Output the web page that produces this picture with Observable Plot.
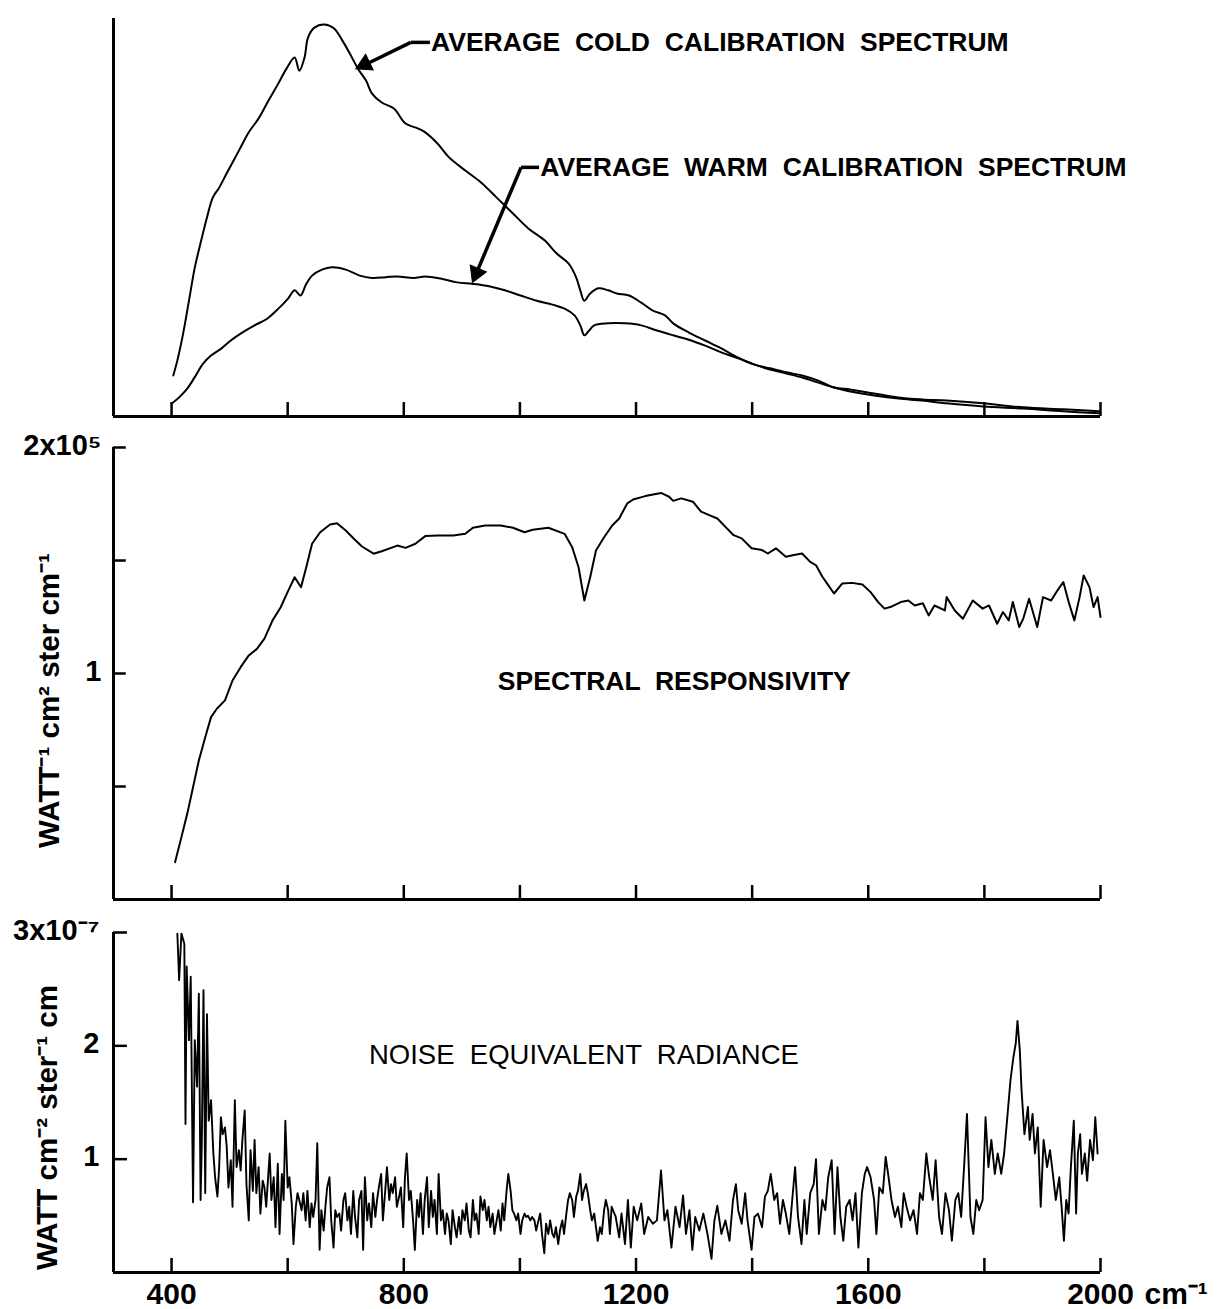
<!DOCTYPE html>
<html><head><meta charset="utf-8">
<script src="https://cdn.jsdelivr.net/npm/d3@7"></script>
<script src="https://cdn.jsdelivr.net/npm/@observablehq/plot@0.6"></script>
<style>
body{margin:0;background:#fff;}
#chart{width:1229px;height:1309px;position:relative;background:#fff;}
#chart svg{display:block;position:absolute;left:0;}
svg text{white-space:pre;}
</style></head><body><div id="chart"></div>
<script>
// ---- DATA (wavenumber cm^-1, value) ----
const coldCal = [[403,10.3],[410,14.1],[420,20.9],[430,29.1],[440,37.4],[451,44.2],[461,50],[471,55],[482,57.5],[495,61.1],[516,66.8],[533,71.4],[550,74.9],[567,79.4],[584,83.7],[598,87.4],[612,90.2],[620,86.9],[629,90.2],[635,95.2],[646,97.7],[663,98.5],[680,97.5],[694,94.5],[707,91.2],[721,87.4],[735,84.4],[745,81.2],[762,78.9],[783,77.4],[803,73.6],[824,72.4],[837,71.4],[858,68.6],[878,65.1],[906,61.8],[933,58.8],[960,55],[988,51],[1015,47.2],[1043,44.2],[1063,41],[1084,38.4],[1097,34.9],[1104,31.7],[1111,29.1],[1121,30.9],[1135,32.2],[1152,31.7],[1167,30.9],[1188,30.4],[1209,28.6],[1229,26.6],[1250,25.4],[1264,23.4],[1291,21.1],[1319,19.1],[1347,17.1],[1376,14.8],[1403,13.1],[1431,12.1],[1459,11.1],[1486,10.3],[1514,9.0],[1541,7.3],[1569,6.8],[1610,5.8],[1652,4.8],[1693,4.3],[1735,4.0],[1798,3.3],[1867,2.3],[1936,1.8],[1998,1.3]];

const warmCal = [[400,3.2],[413,4.8],[427,7],[440,9.9],[454,13.2],[468,15.3],[485,17],[502,19.1],[523,21.2],[543,22.9],[564,24.5],[584,27.1],[601,29.7],[612,31.7],[622,30.4],[632,33.3],[642,35.4],[659,36.9],[676,37.5],[700,36.9],[724,35.4],[745,34.8],[769,35],[789,35.2],[817,34.8],[837,35.2],[865,34.6],[892,33.7],[919,33.3],[947,32.7],[974,31.7],[1001,30.4],[1029,29.1],[1056,28.1],[1077,27.1],[1094,25.4],[1104,22.9],[1111,20.4],[1118,21.4],[1128,22.9],[1152,23.4],[1181,23.4],[1209,22.9],[1236,21.6],[1264,20.4],[1291,19.3],[1319,17.8],[1347,16.1],[1376,14.6],[1403,13.1],[1431,11.8],[1459,10.8],[1486,9.8],[1514,8.5],[1541,7.3],[1569,6.3],[1610,5.3],[1652,4.5],[1693,4.0],[1735,3.3],[1798,2.5],[1867,2.0],[1936,1.3],[1998,0.8]];

// spectral responsivity, units of 10^5 W^-1 cm2 ster cm^-1
const responsivity = [[406,0.165],[417,0.276],[427,0.379],[437,0.497],[447,0.615],[458,0.718],[468,0.807],[478,0.844],[492,0.881],[505,0.969],[519,1.028],[533,1.080],[547,1.109],[560,1.154],[574,1.235],[588,1.293],[601,1.367],[612,1.426],[623,1.382],[632,1.470],[642,1.574],[656,1.625],[673,1.659],[685,1.665],[700,1.633],[714,1.596],[728,1.562],[748,1.530],[762,1.541],[789,1.566],[803,1.556],[820,1.574],[837,1.608],[858,1.611],[885,1.611],[906,1.618],[919,1.645],[940,1.655],[967,1.655],[988,1.645],[1008,1.625],[1022,1.636],[1049,1.645],[1077,1.618],[1090,1.559],[1101,1.470],[1111,1.323],[1121,1.426],[1131,1.544],[1145,1.603],[1159,1.655],[1171,1.686],[1185,1.753],[1195,1.770],[1216,1.785],[1243,1.799],[1257,1.782],[1264,1.764],[1278,1.775],[1298,1.760],[1312,1.716],[1326,1.701],[1340,1.686],[1354,1.649],[1368,1.612],[1382,1.598],[1399,1.554],[1417,1.546],[1427,1.531],[1441,1.554],[1458,1.517],[1472,1.524],[1486,1.531],[1500,1.494],[1510,1.479],[1521,1.428],[1531,1.391],[1541,1.354],[1555,1.398],[1572,1.401],[1590,1.394],[1604,1.360],[1617,1.316],[1628,1.287],[1638,1.294],[1656,1.316],[1669,1.323],[1680,1.301],[1694,1.311],[1704,1.257],[1714,1.301],[1732,1.279],[1735,1.338],[1749,1.279],[1763,1.242],[1780,1.323],[1797,1.287],[1808,1.301],[1822,1.220],[1832,1.272],[1842,1.235],[1849,1.316],[1860,1.206],[1867,1.243],[1877,1.331],[1891,1.206],[1901,1.338],[1915,1.323],[1926,1.368],[1936,1.405],[1946,1.309],[1955,1.235],[1964,1.338],[1971,1.434],[1981,1.382],[1988,1.294],[1995,1.338],[2000,1.250]];

// noise equivalent radiance, units of 10^-7 W cm^-2 ster^-1 cm
const noiseRadiance = [[410,2.99],[413,2.58],[417,2.99],[422,2.90],[424,1.31],[426,2.70],[430,2.05],[433,2.61],[437,0.62],[440,2.05],[444,1.64],[447,2.46],[450,0.64],[452,1.11],[455,2.49],[458,0.70],[461,2.28],[464,1.34],[468,1.52],[472,1.05],[475,0.84],[479,0.67],[482,0.93],[485,1.37],[488,1.22],[492,1.28],[495,1.11],[498,0.75],[502,0.99],[505,0.58],[509,1.52],[512,0.93],[516,1.08],[519,0.90],[522,1.17],[526,1.43],[529,0.78],[533,0.46],[536,1.08],[540,0.72],[543,1.17],[546,0.70],[550,0.93],[553,0.52],[557,0.81],[560,0.75],[563,0.58],[569,1.05],[572,0.64],[576,0.84],[579,0.40],[583,0.96],[586,0.34],[590,0.87],[593,0.64],[596,1.34],[600,0.75],[603,0.84],[607,0.61],[610,0.25],[614,0.58],[617,0.70],[620,0.64],[624,0.55],[627,0.70],[631,0.46],[634,0.72],[638,0.40],[641,0.61],[644,0.49],[648,0.64],[651,1.14],[655,0.20],[658,0.55],[662,0.37],[665,0.58],[668,0.75],[672,0.84],[675,0.46],[679,0.22],[682,0.55],[685,0.49],[689,0.52],[692,0.37],[696,0.64],[699,0.70],[703,0.46],[706,0.58],[709,0.34],[713,0.72],[716,0.49],[720,0.31],[723,0.64],[727,0.72],[730,0.20],[733,0.84],[737,0.46],[740,0.61],[744,0.40],[747,0.70],[751,0.49],[754,0.64],[757,0.75],[761,0.87],[764,0.46],[768,0.72],[771,0.93],[775,0.64],[778,0.78],[781,0.70],[785,0.84],[788,0.58],[792,0.67],[795,0.75],[799,0.40],[802,0.84],[805,1.05],[809,0.64],[812,0.72],[816,0.46],[819,0.20],[823,0.64],[826,0.49],[829,0.70],[833,0.34],[836,0.64],[840,0.84],[843,0.40],[847,0.72],[850,0.49],[853,0.64],[857,0.34],[860,0.87],[864,0.46],[867,0.55],[871,0.34],[874,0.52],[877,0.46],[881,0.25],[884,0.55],[888,0.40],[891,0.31],[895,0.49],[898,0.34],[901,0.55],[905,0.46],[908,0.61],[912,0.37],[915,0.31],[919,0.64],[922,0.46],[925,0.52],[929,0.34],[932,0.67],[936,0.55],[939,0.64],[943,0.46],[946,0.58],[949,0.40],[953,0.52],[956,0.34],[960,0.46],[963,0.55],[967,0.37],[970,0.61],[973,0.46],[977,0.72],[980,0.87],[984,0.72],[987,0.55],[990,0.52],[994,0.46],[997,0.52],[1001,0.34],[1004,0.46],[1008,0.52],[1011,0.49],[1014,0.50],[1018,0.46],[1021,0.49],[1025,0.46],[1028,0.37],[1032,0.46],[1035,0.52],[1038,0.34],[1042,0.17],[1045,0.43],[1049,0.34],[1052,0.46],[1056,0.34],[1059,0.31],[1062,0.40],[1066,0.25],[1069,0.37],[1073,0.46],[1076,0.34],[1080,0.52],[1083,0.64],[1086,0.70],[1090,0.64],[1093,0.49],[1097,0.67],[1100,0.72],[1104,0.87],[1107,0.64],[1110,0.72],[1114,0.78],[1117,0.70],[1121,0.55],[1124,0.46],[1128,0.52],[1131,0.40],[1134,0.28],[1138,0.40],[1141,0.34],[1145,0.55],[1148,0.64],[1152,0.55],[1155,0.34],[1158,0.58],[1165,0.49],[1171,0.31],[1175,0.52],[1181,0.25],[1186,0.64],[1191,0.22],[1196,0.58],[1202,0.46],[1209,0.61],[1214,0.34],[1221,0.49],[1229,0.43],[1236,0.46],[1243,0.90],[1249,0.46],[1254,0.55],[1261,0.22],[1268,0.58],[1275,0.40],[1281,0.68],[1286,0.34],[1292,0.55],[1297,0.20],[1302,0.49],[1309,0.37],[1316,0.52],[1323,0.34],[1330,0.12],[1335,0.46],[1340,0.59],[1347,0.34],[1354,0.46],[1361,0.28],[1367,0.64],[1372,0.78],[1376,0.55],[1382,0.43],[1388,0.70],[1392,0.46],[1399,0.20],[1404,0.49],[1410,0.52],[1417,0.40],[1422,0.67],[1427,0.72],[1432,0.87],[1438,0.64],[1443,0.70],[1448,0.43],[1453,0.64],[1458,0.52],[1464,0.34],[1469,0.64],[1474,0.93],[1479,0.49],[1485,0.25],[1490,0.64],[1494,0.34],[1500,0.70],[1506,0.78],[1510,1.00],[1515,0.34],[1521,0.64],[1526,0.55],[1531,0.84],[1537,0.99],[1542,0.34],[1547,0.93],[1552,0.49],[1557,0.28],[1562,0.58],[1568,0.64],[1573,0.46],[1578,0.70],[1583,0.22],[1589,0.70],[1594,0.87],[1598,0.93],[1604,0.84],[1610,0.64],[1614,0.34],[1619,0.75],[1625,0.70],[1630,1.02],[1635,0.84],[1640,0.64],[1646,0.49],[1651,0.58],[1657,0.40],[1661,0.70],[1666,0.58],[1672,0.46],[1678,0.55],[1684,0.34],[1689,0.70],[1694,0.64],[1700,1.05],[1705,0.84],[1711,0.64],[1716,0.99],[1722,0.49],[1727,0.34],[1733,0.70],[1739,0.55],[1744,0.28],[1750,0.64],[1755,0.70],[1760,0.49],[1765,0.93],[1770,1.40],[1776,0.49],[1781,0.34],[1786,0.64],[1791,0.55],[1797,0.64],[1802,1.37],[1807,0.93],[1812,1.17],[1818,0.87],[1823,1.05],[1829,0.87],[1834,1.05],[1840,1.40],[1845,1.70],[1850,1.90],[1854,2.02],[1857,2.22],[1861,1.96],[1864,1.61],[1869,1.22],[1875,1.46],[1878,1.17],[1883,1.40],[1887,1.05],[1892,1.28],[1897,0.58],[1902,1.17],[1908,0.93],[1913,1.08],[1918,0.87],[1923,0.64],[1929,0.84],[1933,0.58],[1937,0.28],[1941,0.64],[1945,0.52],[1949,0.93],[1954,1.34],[1958,0.52],[1961,1.05],[1965,1.22],[1968,0.87],[1973,1.05],[1977,0.81],[1982,1.17],[1987,0.99],[1991,1.37],[1995,1.05]];

const xTicks = [400, 600, 800, 1000, 1200, 1400, 1600, 1800, 2000];
const xTickLabels = [400, 800, 1200, 1600, 2000];
const xUnit = "cm⁻¹";
const respTicks = [0.5, 1, 1.5, 2];
const respTickValues = [2, 1];
const respTickText = ["2x10⁵", "1"];
const noiseTicks = [1, 2, 3];
const noiseTickValues = [3, 2, 1];
const noiseTickText = ["3x10⁻⁷", "2", "1"];
const coldLabel = "AVERAGE  COLD  CALIBRATION  SPECTRUM";
const warmLabel = "AVERAGE  WARM  CALIBRATION  SPECTRUM";
const respLabel = "SPECTRAL  RESPONSIVITY";
const noiseLabel = "NOISE  EQUIVALENT  RADIANCE";
const respUnits = "WATT⁻¹ cm² ster cm⁻¹";
const noiseUnits = "WATT cm⁻² ster⁻¹ cm";

// ---- CHART ----
const W = 1229, XMIN = 300, XMAX = 2000;
const FONT = "'Liberation Sans', Arial, sans-serif";
const common = {width: W, marginLeft: 113, marginRight: 129,
  x: {domain: [XMIN, XMAX], axis: null},
  style: {fontFamily: FONT, background: "transparent", color: "#000", overflow: "visible"}};
const X = d => d[0], Y = d => d[1];
const seg = {x1: "x1", y1: "y1", x2: "x2", y2: "y2"};

const p1 = Plot.plot({...common, height: 424, marginTop: 18, marginBottom: 8,
  y: {domain: [0, 100], axis: null},
  marks: [
    Plot.ruleX([XMIN], {y1: 0, y2: 100, strokeWidth: 3}),
    Plot.ruleY([0], {x1: XMIN, x2: XMAX, strokeWidth: 3}),
    Plot.ruleX(xTicks, {y1: 0, y2: 3.5, strokeWidth: 2.5}),
    Plot.line(coldCal, {x: X, y: Y, strokeWidth: 2, curve: "catmull-rom"}),
    Plot.line(warmCal, {x: X, y: Y, strokeWidth: 2, curve: "catmull-rom"}),
    // leader lines and filled arrow heads
    Plot.link([{x1: 845, y1: 94, x2: 812, y2: 94}, {x1: 812, y1: 94, x2: 735, y2: 88.5}], {...seg, strokeWidth: 3.5}),
    Plot.dot([{x: 733, y: 88.5}], {x: "x", y: "y", symbol: "triangle", r: 6.5, fill: "black", stroke: "black", strokeWidth: 1, rotate: -116}),
    Plot.link([{x1: 1033, y1: 62.6, x2: 1002, y2: 62.6}, {x1: 1002, y1: 62.6, x2: 925, y2: 36}], {...seg, strokeWidth: 3.5}),
    Plot.dot([{x: 925, y: 36}], {x: "x", y: "y", symbol: "triangle", r: 6.5, fill: "black", stroke: "black", strokeWidth: 1, rotate: -157}),
    Plot.text([coldLabel], {x: () => 847, y: () => 94, textAnchor: "start", fontSize: 26.5, fontWeight: "bold"}),
    Plot.text([warmLabel], {x: () => 1035, y: () => 62.6, textAnchor: "start", fontSize: 26.5, fontWeight: "bold"})
  ]
});

const p2 = Plot.plot({...common, height: 480, marginTop: 23, marginBottom: 5,
  y: {domain: [0, 2], axis: null},
  marks: [
    Plot.ruleX([XMIN], {y1: 0, y2: 2, strokeWidth: 3}),
    Plot.ruleY([0], {x1: XMIN, x2: XMAX, strokeWidth: 3}),
    Plot.ruleX(xTicks, {y1: 0, y2: 0.062, strokeWidth: 2.5}),
    Plot.ruleY(respTicks, {x1: XMIN, x2: XMIN + 22, strokeWidth: 2.5}),
    Plot.line(responsivity, {x: X, y: Y, strokeWidth: 2}),
    Plot.text(respTickValues, {x: () => XMIN, y: d => d, text: (d, i) => respTickText[i], textAnchor: "end", dx: -12, dy: -2, fontSize: 29, fontWeight: "bold"}),
    Plot.text([respLabel], {x: () => 962, y: () => 0.965, textAnchor: "start", fontSize: 26.5, fontWeight: "bold"}),
    Plot.text([respUnits], {frameAnchor: "left", textAnchor: "middle", lineAnchor: "middle", rotate: -90, dx: -64, dy: 27, fontSize: 29.5, fontWeight: "bold"})
  ]
});

const p3 = Plot.plot({...common, height: 405, marginTop: 28, marginBottom: 37,
  y: {domain: [0, 3], axis: null},
  marks: [
    Plot.ruleX([XMIN], {y1: 0, y2: 3, strokeWidth: 3}),
    Plot.ruleY([0], {x1: XMIN, x2: XMAX, strokeWidth: 3}),
    Plot.ruleX(xTicks, {y1: 0, y2: 0.124, strokeWidth: 2.5}),
    Plot.ruleY(noiseTicks, {x1: XMIN, x2: XMIN + 24, strokeWidth: 2.5}),
    Plot.line(noiseRadiance, {x: X, y: Y, strokeWidth: 1.9}),
    Plot.text(noiseTickValues, {x: () => XMIN, y: d => d, text: (d, i) => noiseTickText[i], textAnchor: "end", dx: -14, dy: -2, fontSize: 29, fontWeight: "bold"}),
    Plot.text(xTickLabels, {x: d => d, y: () => 0, text: d => String(d), dy: 22, fontSize: 30, fontWeight: "bold"}),
    Plot.text([xUnit], {x: () => XMAX, y: () => 0, dx: 44, dy: 22, textAnchor: "start", fontSize: 30, fontWeight: "bold"}),
    Plot.text([noiseLabel], {x: () => 740, y: () => 1.915, textAnchor: "start", fontSize: 27.5}),
    Plot.text([noiseUnits], {frameAnchor: "left", textAnchor: "middle", lineAnchor: "middle", rotate: -90, dx: -66, dy: 25, fontSize: 29.5, fontWeight: "bold"})
  ]
});

const chart = document.getElementById("chart");
[[p1, 0], [p2, 424], [p3, 904]].forEach(([p, top]) => {
  p.style.top = top + "px";
  chart.appendChild(p);
});
</script></body></html>
